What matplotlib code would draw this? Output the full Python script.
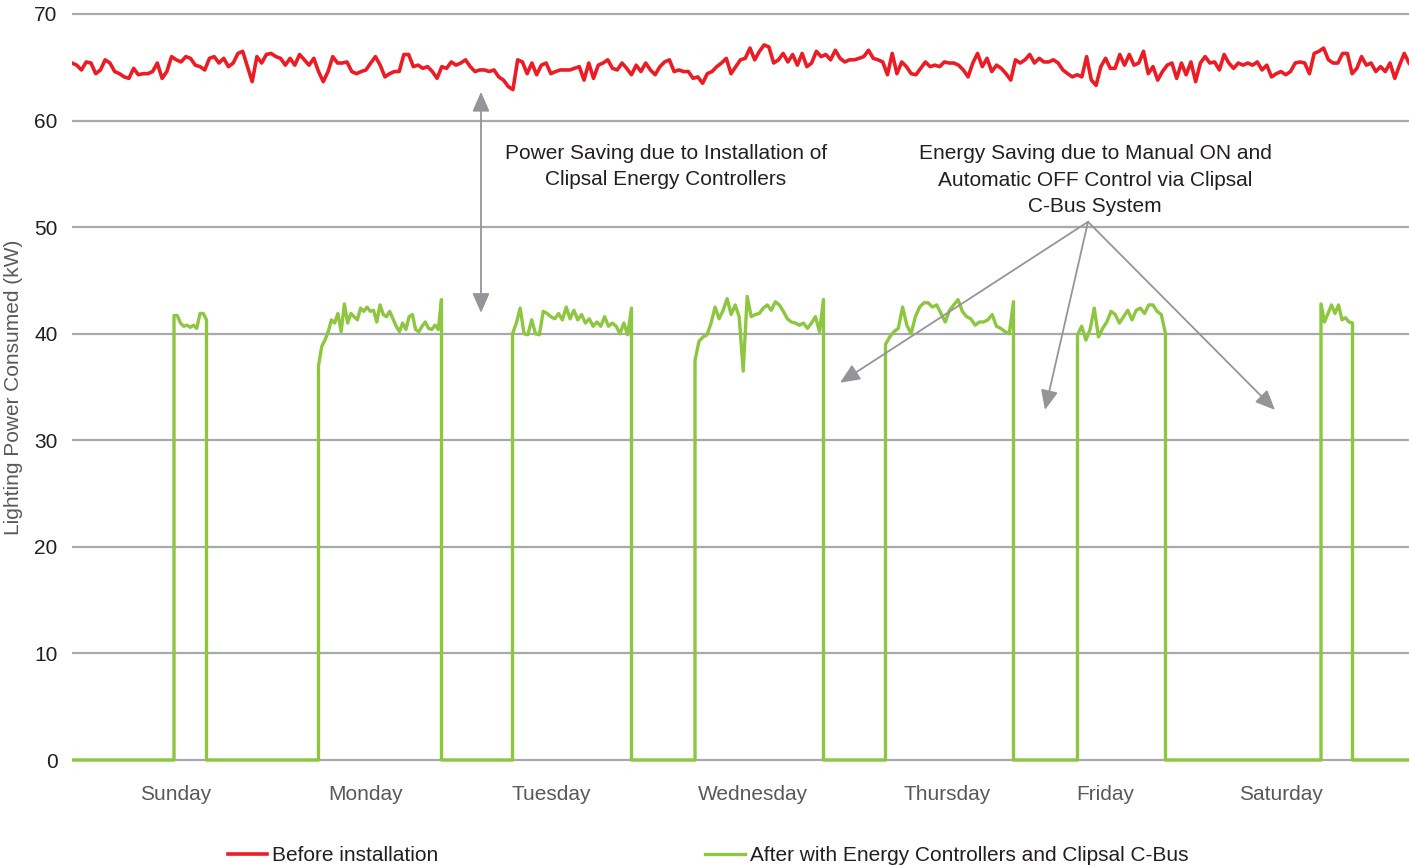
import numpy as np
import matplotlib
matplotlib.use("Agg")
import matplotlib.pyplot as plt

plt.rcParams['font.family'] = ['Liberation Sans', 'DejaVu Sans']

# red line, "before installation" (kW), three stretches of the week
red_a = [65.4, 65.2, 64.75, 65.5, 65.4, 64.4, 64.75, 65.7, 65.4, 64.6, 64.4, 64.1, 63.96, 64.9, 64.3,
         64.4, 64.4, 64.6, 65.4, 63.96, 64.6, 66.0, 65.7, 65.5, 66.0, 65.84, 65.2, 65.06, 64.75, 65.84,
         66.0, 65.4, 65.84, 65.06, 65.4, 66.3, 66.5, 65.06, 63.65, 66.0, 65.4, 66.2, 66.3, 66.0, 65.84,
         65.2, 65.84, 65.2, 66.2, 65.7, 65.2, 65.84, 64.6, 63.65, 64.6, 66.0, 65.4, 65.4, 65.5, 64.6,
         64.4, 64.6, 64.75, 65.4, 66.0, 65.2, 64.1, 64.4, 64.6, 64.6, 66.2, 66.2, 65.06, 65.2, 64.9,
         65.06, 64.6, 63.96, 65.06, 64.9, 65.5, 65.2, 65.4, 65.7, 65.06, 64.6, 64.75, 64.75, 64.6, 64.75,
         64.1, 63.8, 63.2, 62.9, 65.7]
red_b = [65.5, 64.4, 65.4, 64.3, 65.2, 65.4, 64.4, 64.6, 64.75, 64.75, 64.75, 64.9, 65.06, 63.8, 65.4,
         63.96, 65.2, 65.4, 65.7, 64.9, 64.75, 65.4, 64.9, 64.3, 65.2, 64.6, 65.4, 64.75, 64.3, 65.06,
         65.5, 65.7, 64.6, 64.75, 64.6, 64.6, 63.96, 64.1, 63.5, 64.4, 64.6, 65.06, 65.4, 65.84, 64.4,
         65.06, 65.7, 65.84, 66.8, 65.7, 66.5, 67.1, 66.9, 65.4, 65.7, 66.3, 65.5, 66.2, 65.2, 66.3,
         65.06, 65.4, 66.5, 66.0, 66.2, 65.7, 66.6, 65.84, 65.5, 65.7, 65.7, 65.84, 66.0, 66.6, 65.84,
         65.7, 65.5, 64.3, 66.3, 64.4, 65.5, 65.06, 64.4, 64.3, 64.9, 65.5, 65.06, 65.2, 65.06, 65.5,
         65.4]
red_c = [65.4, 65.2, 64.75, 64.1, 65.4, 66.3, 65.06, 65.84, 64.6, 65.2, 64.9, 64.4, 63.8, 65.7, 65.4,
         65.7, 66.2, 65.4, 65.84, 65.5, 65.5, 65.7, 65.4, 64.75, 64.4, 64.1, 64.3, 64.1, 66.0, 63.8,
         63.3, 65.06, 65.84, 64.9, 64.9, 66.2, 65.2, 66.2, 65.2, 65.4, 66.5, 64.4, 65.06, 63.8, 64.6,
         65.2, 65.4, 63.96, 65.4, 64.3, 65.5, 63.65, 65.4, 66.0, 65.4, 65.5, 64.75, 66.2, 65.4, 64.9,
         65.4, 65.2, 65.4, 65.2, 65.5, 64.75, 65.2, 64.1, 64.4, 64.6, 64.3, 64.6, 65.4, 65.5, 65.4,
         64.4, 66.3, 66.5, 66.8, 65.7, 65.4, 65.4, 66.3, 66.3, 64.4, 64.9, 66.0, 65.2, 65.4, 64.6,
         65.06, 64.6, 65.4, 63.96, 65.2, 66.3, 65.4]
red = red_a + red_b + red_c

# green line: switch-on / switch-off sample index per day and the readings while on
green_on = [20.4, 49.3, 88.1, 124.6, 162.7, 201.1, 249.8]
green_off = [26.9, 73.9, 111.9, 150.3, 188.3, 218.7, 256.1]
green_vals = [
    [41.7, 41.7, 41.0, 40.7, 40.8, 40.6, 40.8, 40.5, 41.9, 41.9, 41.3],
    [37.0, 38.8, 39.4, 40.2, 41.3, 41.0, 41.9, 40.2, 42.8, 41.0, 41.9, 41.6, 41.3, 42.4, 42.1, 42.5,
     42.1, 42.2, 41.1, 42.7, 41.8, 41.6, 42.1, 41.4, 40.7, 40.2, 41.0, 40.4, 41.6, 41.8, 40.4, 40.2,
     40.7, 41.1, 40.5, 40.4, 40.8, 40.4, 43.2],
    [40.0, 41.0, 42.4, 40.0, 39.9, 41.3, 40.0, 39.9, 42.1, 41.9, 41.6, 41.4, 41.9, 41.3, 42.5, 41.4,
     42.2, 41.3, 41.8, 41.0, 41.4, 40.7, 41.1, 40.7, 41.6, 40.7, 41.0, 40.7, 40.0, 41.0, 39.9, 42.4],
    [37.5, 39.3, 39.7, 39.9, 41.0, 42.5, 41.4, 42.2, 43.3, 41.8, 42.7, 41.6, 36.5, 43.5, 41.6, 41.8,
     41.9, 42.4, 42.7, 42.2, 43.0, 42.7, 42.1, 41.4, 41.1, 41.0, 40.8, 41.0, 40.5, 41.0, 41.6, 40.2,
     43.2],
    [39.0, 39.7, 40.2, 40.5, 42.5, 40.8, 40.0, 41.6, 42.5, 42.9, 42.9, 42.5, 42.7, 41.9, 41.1, 42.2,
     42.7, 43.2, 42.1, 41.6, 41.4, 40.8, 41.1, 41.1, 41.3, 41.8, 40.7, 40.5, 40.2, 40.0, 43.0],
    [39.9, 40.7, 39.4, 40.4, 42.4, 39.7, 40.5, 41.1, 42.1, 41.8, 41.0, 41.6, 42.2, 41.3, 42.2, 42.4,
     41.9, 42.7, 42.7, 42.1, 41.8, 40.0],
    [42.8, 41.1, 41.9, 42.7, 41.9, 42.7, 41.3, 41.5, 41.1, 41.0],
]
x_end = 267.4

days = ['Sunday', 'Monday', 'Tuesday', 'Wednesday', 'Thursday', 'Friday', 'Saturday']
day_pos = [20.8, 58.8, 95.8, 136.2, 175.0, 206.6, 241.8]

red_col = '#ed1c24'
green_col = '#8dc63f'
grey = '#939598'
txt = '#231f20'

fig = plt.figure(figsize=(14.09, 8.66), dpi=100)
ax = fig.add_axes([72 / 1409, 1 - 763.2 / 866, 1337 / 1409, 752.4 / 866])

red_x = np.linspace(0, x_end, len(red))

gx, gy = [0.0], [0.0]
for on, off, vals in zip(green_on, green_off, green_vals):
    gx += [on] + list(np.linspace(on, off, len(vals))) + [off]
    gy += [0.0] + vals + [0.0]
gx.append(x_end)
gy.append(0.0)

ax.plot(red_x, red, color=red_col, lw=2.6, label='Before installation', zorder=3)
ax.plot(gx, gy, color=green_col, lw=2.4, label='After with Energy Controllers and Clipsal C-Bus', zorder=3)

ax.set_xlim(0, x_end)
ax.set_ylim(-0.3, 70.3)
ax.set_yticks(range(0, 71, 10))
ax.set_xticks(day_pos)
ax.set_xticklabels(days)
ax.grid(axis='y', color='#a7a9ac', lw=1.6)
ax.set_axisbelow(True)
for s in ax.spines.values():
    s.set_visible(False)
ax.tick_params(axis='y', length=0, pad=10.5, labelsize=15, labelcolor=txt)
ax.tick_params(axis='x', length=0, pad=16, labelsize=15, labelcolor='#595959')
ax.set_ylabel('Lighting Power Consumed (kW)', fontsize=15, color='#595959')
ax.yaxis.set_label_coords(-0.0367, 0.5)

# annotations
ax.annotate('', xy=(81.8, 62.7), xytext=(81.8, 41.95),
            arrowprops=dict(arrowstyle='<|-|>,head_length=0.8,head_width=0.35', mutation_scale=15,
                            color=grey, lw=1.3, shrinkA=0, shrinkB=0))
ax.text(118.8, 55.7, 'Power Saving due to Installation of\nClipsal Energy Controllers',
        ha='center', va='center', fontsize=15, color=txt, linespacing=1.5)
ax.text(204.6, 54.4, 'Energy Saving due to Manual ON and\nAutomatic OFF Control via Clipsal\nC-Bus System',
        ha='center', va='center', fontsize=15, color=txt, linespacing=1.5)
for tx, ty in [(153.6, 35.4), (194.6, 32.85), (240.6, 32.85)]:
    ax.annotate('', xy=(tx, ty), xytext=(203.2, 50.5),
                arrowprops=dict(arrowstyle='-|>,head_length=0.8,head_width=0.35', mutation_scale=15,
                                color=grey, lw=1.3, shrinkA=0, shrinkB=0))

fig.legend(loc='center', bbox_to_anchor=(0.5025, 0.012), ncol=2, frameon=False, fontsize=15,
           handlelength=1.9, handletextpad=0.25, columnspacing=12.8, labelcolor=txt, borderpad=0)

fig.savefig('out.png', dpi=100)
